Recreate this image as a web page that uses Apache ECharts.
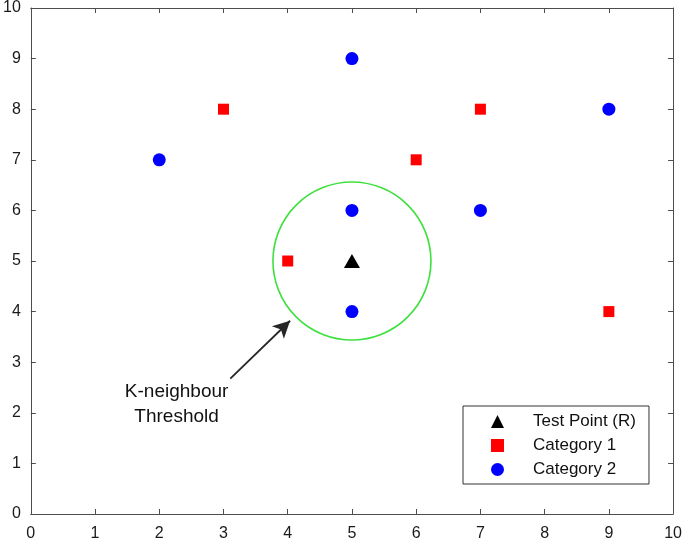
<!DOCTYPE html>
<html>
<head>
<meta charset="utf-8">
<script src="https://cdn.jsdelivr.net/npm/echarts@6/dist/echarts.min.js"></script>
<style>
html,body{margin:0;padding:0;background:#fff;}
#chart{width:685px;height:545px;}
</style>
</head>
<body>
<div id="chart"></div>
<script>
// ---- data ----
var testPoint = [[5, 5]];
var category1 = [[3, 8], [7, 8], [6, 7], [4, 5], [9, 4]];
var category2 = [[5, 9], [9, 8], [2, 7], [5, 6], [7, 6], [5, 4]];
var seriesNames = ['Test Point (R)', 'Category 1', 'Category 2'];
var xTicks = [0, 10, 1];   // min, max, interval
var yTicks = [0, 10, 1];
var thresholdCenter = [5, 5];
var thresholdRadius = 1.23;          // in x-axis units
var annotationText = ['K-neighbour', 'Threshold'];
var annotationPos = [2.27, 2.16];
var arrowFrom = [3.106, 2.677];
var arrowTo = [4.037, 3.819];

var FONT = '"Liberation Sans", Arial, Helvetica, sans-serif';
var AXIS_COLOR = '#4d4d4d';

function xAxisDef(pos, showLabel) {
  return {
    type: 'value', position: pos, min: xTicks[0], max: xTicks[1], interval: xTicks[2],
    axisLine: { show: true, onZero: false, lineStyle: { color: AXIS_COLOR, width: 1 } },
    axisTick: { show: true, inside: true, length: 5, lineStyle: { color: AXIS_COLOR } },
    axisLabel: { show: showLabel, margin: 12, color: '#1a1a1a', fontSize: 16, fontFamily: FONT },
    splitLine: { show: false }
  };
}
function yAxisDef(pos, showLabel) {
  return {
    type: 'value', position: pos, min: yTicks[0], max: yTicks[1], interval: yTicks[2],
    axisLine: { show: true, onZero: false, lineStyle: { color: AXIS_COLOR, width: 1 } },
    axisTick: { show: true, inside: true, length: 5, lineStyle: { color: AXIS_COLOR } },
    axisLabel: { show: showLabel, margin: 10, color: '#1a1a1a', fontSize: 16, fontFamily: FONT },
    splitLine: { show: false }
  };
}

var chart = echarts.init(document.getElementById('chart'), null, { renderer: 'canvas' });
chart.setOption({
  animation: false,
  backgroundColor: '#ffffff',
  grid: { left: 30, right: 11, top: 6, bottom: 31, containLabel: false },
  xAxis: [xAxisDef('bottom', true), xAxisDef('top', false)],
  yAxis: [yAxisDef('left', true), yAxisDef('right', false)],
  legend: {
    data: seriesNames,
    orient: 'vertical',
    left: 463, top: 406,
    padding: [7, 13, 6, 28],
    itemGap: 7,
    itemWidth: 13,
    itemHeight: 13,
    borderColor: '#333333',
    borderWidth: 1,
    backgroundColor: '#ffffff',
    selectedMode: false,
    textStyle: { fontSize: 17, color: '#111111', fontFamily: FONT, padding: [0, 0, 0, 24] }
  },
  series: [
    {
      type: 'custom',
      name: 'threshold',
      silent: true,
      data: [thresholdCenter],
      renderItem: function (params, api) {
        var c = api.coord([api.value(0), api.value(1)]);
        var r = api.size([thresholdRadius, 0])[0];
        return {
          type: 'circle',
          shape: { cx: c[0], cy: c[1], r: r },
          style: { fill: null, stroke: '#3ee03e', lineWidth: 1.6 }
        };
      },
      z: 1
    },
    {
      type: 'scatter', name: seriesNames[0], data: testPoint,
      symbol: 'triangle', symbolSize: [16, 14],
      itemStyle: { color: '#000000', opacity: 1 }, z: 3
    },
    {
      type: 'scatter', name: seriesNames[1], data: category1,
      symbol: 'rect', symbolSize: 11,
      itemStyle: { color: '#ff0000', opacity: 1 }, z: 3
    },
    {
      type: 'scatter', name: seriesNames[2], data: category2,
      symbol: 'circle', symbolSize: 13,
      itemStyle: { color: '#0000ff', opacity: 1 }, z: 3
    },
    {
      type: 'scatter', name: 'annotation', silent: true,
      data: [annotationPos], symbolSize: 0,
      itemStyle: { opacity: 1 },
      label: {
        show: true, position: 'inside',
        formatter: annotationText.join('\n'),
        fontSize: 19, lineHeight: 25, color: '#111111', fontFamily: FONT,
        align: 'center', verticalAlign: 'middle', opacity: 1
      }
    },
    {
      type: 'line', name: 'arrow', data: [], silent: true,
      markLine: {
        silent: true, animation: false,
        symbol: ['none', 'arrow'], symbolSize: [13, 17],
        label: { show: false },
        lineStyle: { color: '#262626', width: 1.8, type: 'solid', opacity: 1 },
        data: [[{ coord: arrowFrom }, { coord: arrowTo }]]
      }
    }
  ]
});
</script>
</body>
</html>
